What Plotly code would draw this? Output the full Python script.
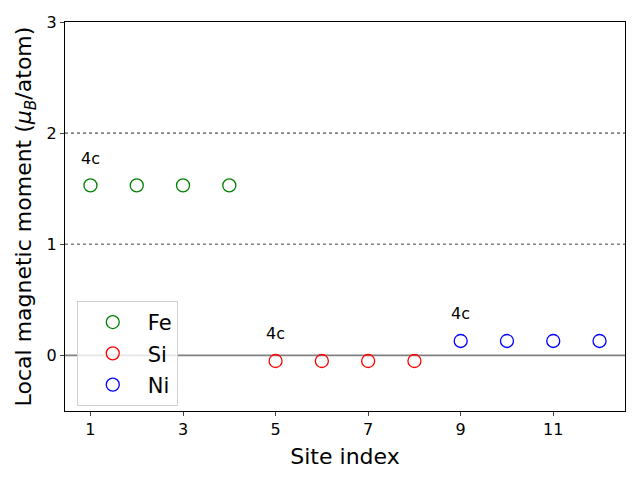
import plotly.graph_objects as go

fe_sites = [1, 2, 3, 4]
fe_moments = [1.53, 1.53, 1.53, 1.53]
si_sites = [5, 6, 7, 8]
si_moments = [-0.05, -0.05, -0.05, -0.05]
ni_sites = [9, 10, 11, 12]
ni_moments = [0.13, 0.13, 0.13, 0.13]

series = [
    ("Fe", fe_sites, fe_moments, "green"),
    ("Si", si_sites, si_moments, "red"),
    ("Ni", ni_sites, ni_moments, "blue"),
]
wyckoff_labels = ["4c", "4c", "4c"]

x_ticks = [1, 3, 5, 7, 9, 11]
y_ticks = [0, 1, 2, 3]
hlines_dotted = [1, 2]

font_family = "DejaVu Sans"

fig = go.Figure()
for i, (name, xs, ys, color) in enumerate(series):
    fig.add_trace(go.Scatter(
        x=xs, y=ys, mode="markers", name=name,
        legendgroup=name,
        marker=dict(symbol="circle-open", size=13, color=color, line=dict(width=1.3, color=color)),
    ))
    fig.add_annotation(x=xs[0], y=ys[0], text=wyckoff_labels[i], showarrow=False,
                       yshift=27, font=dict(size=16, color="black", family=font_family))

for yv in hlines_dotted:
    fig.add_shape(type="line", xref="paper", x0=0, x1=1, yref="y", y0=yv, y1=yv,
                  line=dict(color="gray", width=1.6, dash="dot"), layer="below")
fig.add_shape(type="line", xref="paper", x0=0, x1=1, yref="y", y0=0, y1=0,
              line=dict(color="gray", width=1.8), layer="below")

fig.update_layout(
    width=640, height=480,
    margin=dict(l=65, r=15, t=22, b=69),
    paper_bgcolor="white", plot_bgcolor="white",
    font=dict(family=font_family, color="black"),
    showlegend=True,
    legend=dict(x=0.021, y=0.283, xanchor="left", yanchor="top",
                bgcolor="rgba(255,255,255,0.8)", bordercolor="#d0d0d0", borderwidth=1,
                font=dict(size=21), tracegroupgap=1, itemwidth=60),
    xaxis=dict(range=[0.45, 12.55], tickvals=x_ticks, ticks="outside", ticklen=4,
               showline=True, linecolor="black", linewidth=1, mirror=True,
               showgrid=False, zeroline=False, tickfont=dict(size=16),
               title=dict(text="Site index", font=dict(size=22), standoff=10)),
    yaxis=dict(range=[-0.5, 3], tickvals=y_ticks, ticks="outside", ticklen=4,
               showline=True, linecolor="black", linewidth=1, mirror=True,
               showgrid=False, zeroline=False, tickfont=dict(size=16),
               title=dict(text="Local magnetic moment (<i>μ</i><sub><i>B</i></sub>/atom)",
                          font=dict(size=22), standoff=8)),
)

fig.write_html("out.html")
